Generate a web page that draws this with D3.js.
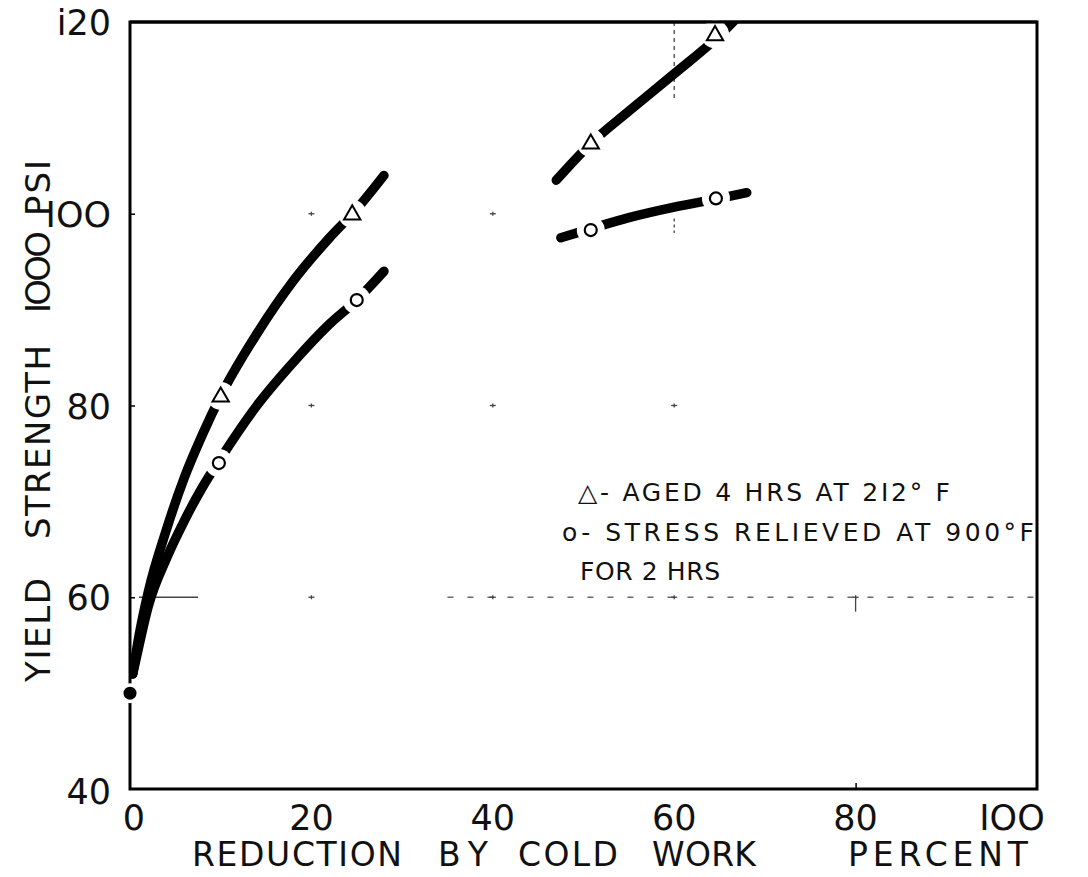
<!DOCTYPE html>
<html><head><meta charset="utf-8">
<script src="https://cdn.jsdelivr.net/npm/d3@7"></script>
<style>body{margin:0;background:#fff}svg{display:block}text{font-family:"DejaVu Sans",sans-serif;fill:#111}</style>
</head><body><div id="chart"></div>
<script>
// ---- data ----
const xTicks = [0, 20, 40, 60, 80, 100];
const xTickLabels = ["0", "20", "40", "60", "80", "IOO"];
const yTicks = [40, 60, 80, 100, 120];
const yTickLabels = ["40", "60", "80", "IOO", "i20"];
const agedCurveLeft = [[0.3,52],[1,56],[2,60.5],[4,67],[6,72.5],[8,77],[10,81],[14,87.5],[18,93],[22,97.5],[25,100.5],[28,104]];
const agedCurveRight = [[47,103.5],[51,107.5],[55,110.7],[60,114.6],[65,118.6],[68,121.5]];
const stressCurveLeft = [[0.3,52],[1,55],[2,59],[4,64],[6,68],[8,71.5],[10,74.5],[14,80],[18,84.5],[22,88.5],[25,91],[28,94]];
const stressCurveRight = [[47.5,97.5],[51,98.5],[55,99.6],[60,100.7],[65,101.6],[68,102.2]];
const agedPoints = [[10,81],[24.5,100],[50.8,107.4],[64.5,118.7]];
const stressPoints = [[9.8,74],[25,91],[50.8,98.3],[64.6,101.6]];
const basePoint = [[0,50]];
const legendLines = ["\u25B3- AGED 4 HRS  AT  2I2\u00B0 F", "o- STRESS RELIEVED AT 900\u00B0F", "FOR 2 HRS"];
const xTitleWords = ["REDUCTION", "BY", "COLD", "WORK", "PERCENT"];
const yTitleWords = ["YIELD", "STRENGTH", "IOOO", "PSI"];

// ---- layout ----
const W = 1088, H = 877;
const L = 130, R = 1037, T = 22, B = 789;
const x = d3.scaleLinear().domain([0,100]).range([L,R]);
const y = d3.scaleLinear().domain([40,120]).range([B,T]);

const svg = d3.select("#chart").append("svg").attr("width",W).attr("height",H);
svg.append("defs").append("clipPath").attr("id","clip")
  .append("rect").attr("x",L).attr("y",T).attr("width",R-L).attr("height",B-T);

// faint grid remnants
const g0 = svg.append("g").attr("stroke","#444").attr("stroke-width",1.3);
g0.append("line").attr("x1",x(35)).attr("x2",x(100)).attr("y1",y(60)).attr("y2",y(60))
  .attr("stroke-dasharray","6,14").attr("opacity",0.8);
g0.append("line").attr("x1",x(1)).attr("x2",x(7.5)).attr("y1",y(60)).attr("y2",y(60));
g0.append("line").attr("x1",x(60)).attr("x2",x(60)).attr("y1",y(120)).attr("y2",y(112))
  .attr("stroke-dasharray","4,4");
g0.append("line").attr("x1",x(60)).attr("x2",x(60)).attr("y1",y(99.5)).attr("y2",y(98))
  .attr("stroke-dasharray","3,3");
[[20,100],[40,100],[20,60],[60,60],[80,60],[40,60],[40,80],[60,80],[20,80]].forEach(p=>{
  g0.append("line").attr("x1",x(p[0])-3).attr("x2",x(p[0])+3).attr("y1",y(p[1])).attr("y2",y(p[1]));
  g0.append("line").attr("x1",x(p[0])).attr("x2",x(p[0])).attr("y1",y(p[1])-2).attr("y2",y(p[1])+2);
});
g0.append("line").attr("x1",x(80)).attr("x2",x(80)).attr("y1",y(60)).attr("y2",y(58.5));

// frame (axes)
svg.append("path").attr("d",`M${L},${T}H${R}V${B}H${L}Z`)
  .attr("stroke","#000").attr("stroke-width",3).attr("fill","none");

// inner ticks via d3 axes (short)
const xAxis = svg.append("g").attr("transform",`translate(0,${B})`)
  .call(d3.axisTop(x).tickValues([80]).tickSize(6).tickFormat(""));
xAxis.select(".domain").remove();
xAxis.selectAll("line").attr("stroke","#000").attr("stroke-width",1.5);
const yAxis = svg.append("g").attr("transform",`translate(${L},0)`)
  .call(d3.axisRight(y).tickValues([60,80,100]).tickSize(5).tickFormat(""));
yAxis.select(".domain").remove();
yAxis.selectAll("line").attr("stroke","#000").attr("stroke-width",1.5);

// tick labels
svg.append("g").selectAll("text").data(xTicks).join("text")
  .attr("x",d=>x(d)+(d===0?4:d===100?-25:0)).attr("y",B+41)
  .attr("text-anchor","middle").attr("font-size",35).text((d,i)=>xTickLabels[i]);
svg.append("g").selectAll("text").data(yTicks).join("text")
  .attr("x",L-19).attr("y",d=>y(d)+13+(d===40?2:0))
  .attr("text-anchor","end").attr("font-size",35)
  .text((d,i)=>yTickLabels[i]);

// curves
const line = d3.line().x(d=>x(d[0])).y(d=>y(d[1])).curve(d3.curveMonotoneX);
const cg = svg.append("g").attr("clip-path","url(#clip)");
[agedCurveLeft, agedCurveRight, stressCurveLeft, stressCurveRight].forEach(c=>{
  cg.append("path").attr("d",line(c)).attr("fill","none").attr("stroke","#000")
    .attr("stroke-width",9.5).attr("stroke-linecap","round");
});

// gaps at markers
svg.append("g").selectAll("circle").data(agedPoints.concat(stressPoints)).join("circle")
  .attr("cx",d=>x(d[0])).attr("cy",d=>y(d[1])).attr("r",14).attr("fill","#fff");
svg.append("line").attr("x1",L).attr("x2",R).attr("y1",T).attr("y2",T).attr("stroke","#000").attr("stroke-width",3);

// markers
const tri = d3.symbol().type(d3.symbolTriangle).size(115);
svg.append("g").selectAll("path").data(agedPoints).join("path")
  .attr("transform",d=>`translate(${x(d[0])},${y(d[1])+1})`).attr("d",tri)
  .attr("fill","#fff").attr("stroke","#000").attr("stroke-width",2);
svg.append("g").selectAll("circle").data(stressPoints).join("circle")
  .attr("cx",d=>x(d[0])).attr("cy",d=>y(d[1])).attr("r",6)
  .attr("fill","#fff").attr("stroke","#000").attr("stroke-width",2.2);
// base point
svg.append("g").selectAll("circle").data(basePoint).join("circle")
  .attr("cx",d=>x(d[0])).attr("cy",d=>y(d[1])).attr("r",10).attr("fill","#fff");
svg.append("g").selectAll("circle").data(basePoint).join("circle")
  .attr("cx",d=>x(d[0])).attr("cy",d=>y(d[1])).attr("r",6.5).attr("fill","#000");

// legend
const lg = svg.append("g").attr("font-size",25);
lg.append("text").attr("x",578).attr("y",501).attr("textLength",372).attr("lengthAdjust","spacing").text(legendLines[0]);
lg.append("text").attr("x",562).attr("y",541).attr("textLength",472).attr("lengthAdjust","spacing").text(legendLines[1]);
lg.append("text").attr("x",580).attr("y",580).attr("textLength",140).attr("lengthAdjust","spacing").text(legendLines[2]);

// axis titles (word by word: start, width)
const xWordPos = [[192,210],[438,50],[518,100],[652,104],[848,180]];
svg.append("g").selectAll("text").data(xTitleWords).join("text")
  .attr("x",(d,i)=>xWordPos[i][0]).attr("y",866).attr("font-size",33)
  .attr("textLength",(d,i)=>xWordPos[i][1]).attr("lengthAdjust","spacing").text(d=>d);
const yWordPos = [[630,104],[442,194],[272,82],[188,56]];
svg.append("g").selectAll("text").data(yTitleWords).join("text")
  .attr("transform",(d,i)=>`translate(50,${yWordPos[i][0]+yWordPos[i][1]/2}) rotate(-90)`).attr("font-size",34)
  .attr("textLength",(d,i)=>yWordPos[i][1]).attr("lengthAdjust","spacing").text(d=>d);
</script></body></html>
